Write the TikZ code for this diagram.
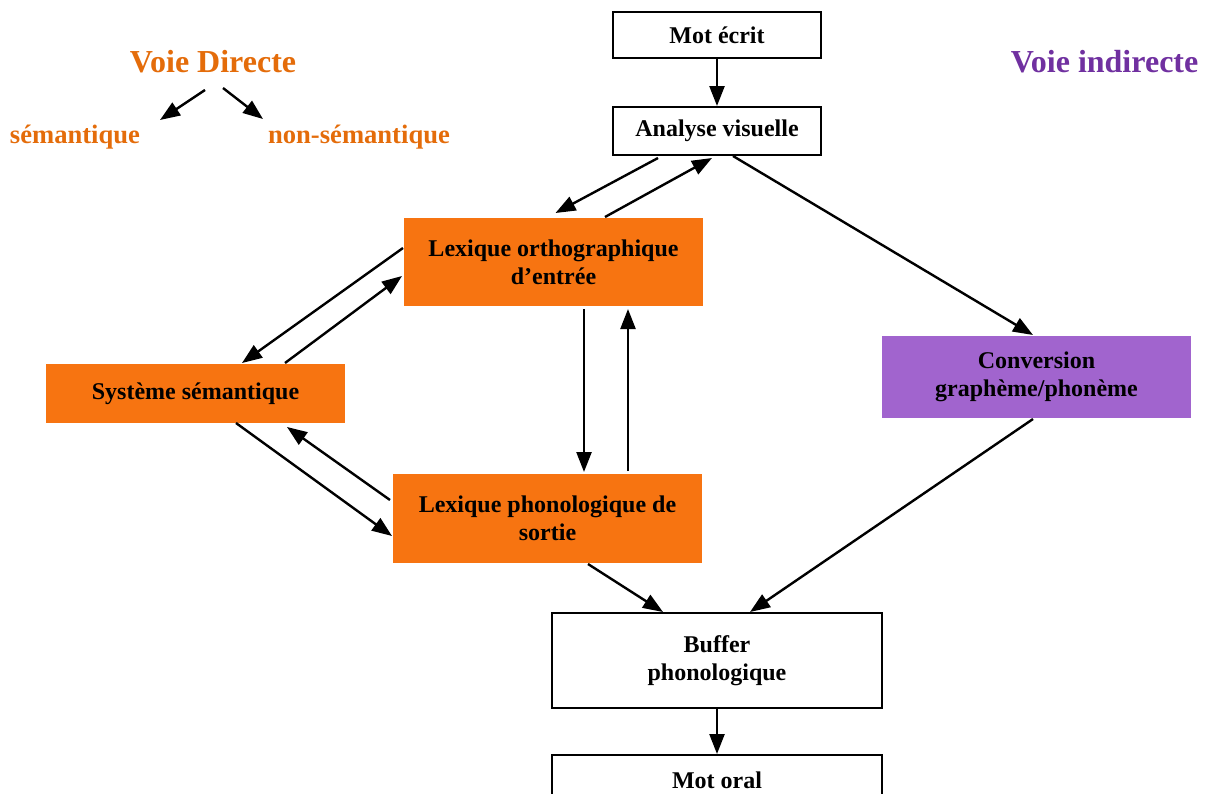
\documentclass[tikz,border=0pt]{standalone}
\usepackage{fontspec}
\setmainfont{Liberation Serif}
\usetikzlibrary{arrows.meta,calc}
\definecolor{orangeboite}{RGB}{247,116,17}
\definecolor{violetboite}{RGB}{161,100,206}
\definecolor{orangetitre}{RGB}{228,108,10}
\definecolor{violettitre}{RGB}{112,48,160}

\begin{document}
\begin{tikzpicture}[x=0.5pt,y=-0.5pt,->,>={Triangle[length=10pt,width=7.5pt]},line width=1.2pt,
    boite/.style={shape=rectangle,draw=black,line width=1pt,inner sep=0pt,align=center,
        font=\bfseries\fontsize{12}{14}\selectfont},
    titre/.style={inner sep=0pt,font=\bfseries\fontsize{16}{19}\selectfont},
    voie/.style={inner sep=0pt,font=\bfseries\fontsize{13.3}{16}\selectfont,text=orangetitre}]
                \useasboundingbox (0,0) rectangle (1209,793);
                \clip (0,0) rectangle (1209,793);
                % titres
                \node[titre,text=orangetitre](Directe)at(213, 62){Voie Directe};
                \node[titre,text=violettitre](Indirecte)at(1104.5, 62){Voie indirecte};
                \node[voie](Sem)at(75, 137){sémantique};
                \node[voie](NonSem)at(359, 137){non-sémantique};
                % boites
                \node[boite,minimum width=104pt,minimum height=23pt](1)at(717, 35){Mot écrit};
                \node[boite,minimum width=104pt,minimum height=24pt](2)at(717, 131){Analyse visuelle};
                \node[boite,draw=none,fill=orangeboite,minimum width=149.5pt,minimum height=44pt](3)at(553.5, 262){Lexique orthographique\\d’entrée};
                \node[boite,draw=none,fill=orangeboite,minimum width=149.5pt,minimum height=29.5pt](4)at(195.5, 393.5){Système sémantique};
                \node[boite,draw=none,fill=orangeboite,minimum width=154.5pt,minimum height=44.5pt](5)at(547.5, 518.5){Lexique phonologique de\\sortie};
                \node[boite,draw=none,fill=violetboite,minimum width=154.5pt,minimum height=41pt](6)at(1036.5, 377){Conversion\\graphème/phonème};
                \node[boite,minimum width=165pt,minimum height=47.5pt](7)at(717, 660.5){Buffer\\phonologique};
                \node[boite,minimum width=165pt,minimum height=25pt](8)at(717, 780){Mot oral};
                % fleches
                \path[]($(Directe)+(-8,28)$) edge ($(Sem)+(85,-17)$)
                ($(Directe)+(10,26)$) edge ($(NonSem)+(-96,-18)$)
                (1) edge (2)
                ($(2.south)+(-59,2)$) edge ($(3.north)+(2,-4)$)
                ($(3.north)+(51.5,0)$) edge ($(2.south)+(-5,2)$)
                ($(2.south)+(16,0)$) edge ($(6.north)+(-3.5,0)$)
                ($(3.west)+(0,-14)$) edge ($(4.north)+(46.5,0)$)
                ($(4.north)+(89.5,0)$) edge ($(3.west)+(-1,14)$)
                ($(3.south)+(30.5,2)$) edge ($(5.north)+(36.5,-1)$)
                ($(5.north)+(80.5,-2)$) edge ($(3.south)+(74.5,2)$)
                ($(4.south)+(40.5,-1)$) edge ($(5.west)+(0,17.5)$)
                ($(5.west)+(-2,-18.5)$) edge ($(4.south)+(91.5,3)$)
                ($(5.south)+(40.5,0)$) edge ($(7.north)+(-54,0)$)
                ($(6.south)+(-3.5,0)$) edge ($(7.north)+(33,0)$)
                (7) edge (8);
            \end{tikzpicture}
\end{document}
